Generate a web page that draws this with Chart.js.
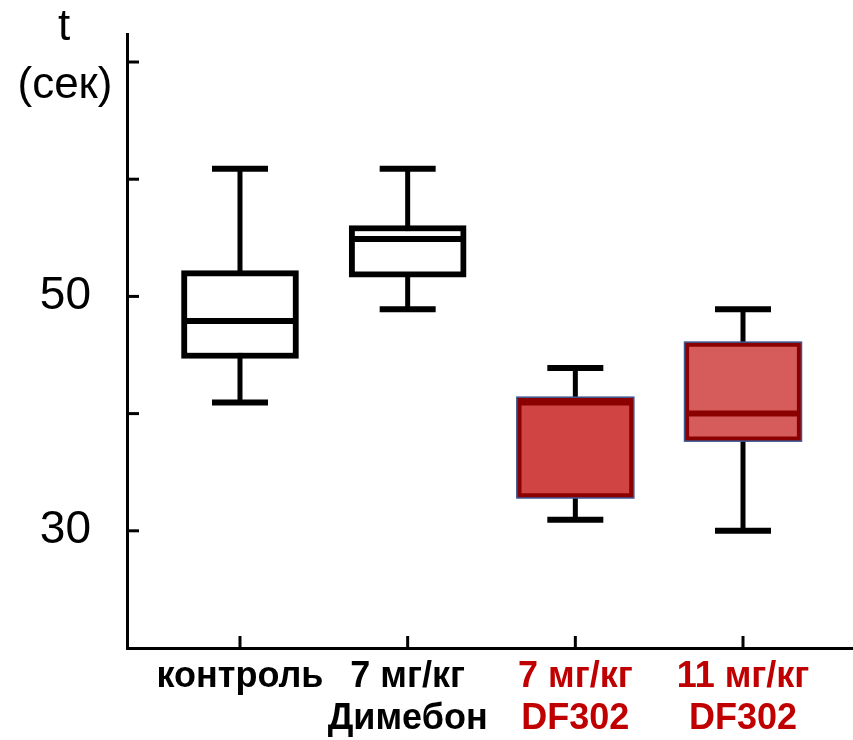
<!DOCTYPE html>
<html>
<head>
<meta charset="utf-8">
<script src="https://cdn.jsdelivr.net/npm/chart.js@4.4.1/dist/chart.umd.min.js"></script>
<style>
  html, body { margin: 0; padding: 0; background: #fff; }
  #wrap { width: 853px; height: 740px; }
</style>
</head>
<body>
<div id="wrap"><canvas id="boxes" width="853" height="740"></canvas></div>
<script>
// ---------- data ----------
const GROUPS = [["контроль"], ["7 мг/кг", "Димебон"], ["7 мг/кг", "DF302"], ["11 мг/кг", "DF302"]];
const POS = [1, 2, 3, 4];
const WHISK_LO = [40.95, 48.9, 30.95, 30.0];
const BOX_LO = [44.7, 51.65, 32.8, 37.65];
const MEDIAN = [47.9, 54.9, 40.95, 40.0];
const BOX_HI = [52.2, 56.05, 41.4, 46.1];
const WHISK_HI = [60.9, 60.9, 43.9, 48.9];
const Y_TICKS = [20, 30, 40, 50, 60, 70];
const Y_LABELED = [30, 50];

const BOX_FILL = ["#ffffff", "#ffffff", "#d04444", "#d65c5c"];
const BOX_EDGE = ["#000000", "#000000", "#8b0000", "#8b0000"];
const LABEL_COL = ["#000000", "#000000", "#c00000", "#c00000"];

// ---------- whiskers, caps, medians, inward ticks, title ----------
const boxExtras = {
  id: "boxExtras",
  beforeDatasetsDraw(chart) {
    const { ctx, scales: { x, y } } = chart;
    ctx.save();
    ctx.strokeStyle = "#000";
    POS.forEach((p, i) => {
      const cx = x.getPixelForValue(p);
      ctx.lineWidth = 5;
      ctx.beginPath();
      ctx.moveTo(cx, y.getPixelForValue(WHISK_LO[i]));
      ctx.lineTo(cx, y.getPixelForValue(WHISK_HI[i]));
      ctx.stroke();
      ctx.lineWidth = 6;
      [WHISK_LO[i], WHISK_HI[i]].forEach(v => {
        const py = y.getPixelForValue(v);
        ctx.beginPath();
        ctx.moveTo(cx - 28, py);
        ctx.lineTo(cx + 28, py);
        ctx.stroke();
      });
    });
    ctx.restore();
  },
  afterDatasetsDraw(chart) {
    const { ctx, scales: { x, y } } = chart;
    const meta = chart.getDatasetMeta(0);
    ctx.save();
    meta.data.forEach((bar, i) => {
      const half = bar.width / 2;
      // median
      ctx.strokeStyle = BOX_EDGE[i];
      ctx.lineWidth = 6;
      const my = y.getPixelForValue(MEDIAN[i]);
      ctx.beginPath();
      ctx.moveTo(bar.x - half + 3, my);
      ctx.lineTo(bar.x + half - 3, my);
      ctx.stroke();
      // thin blue outline on the red boxes
      if (i >= 2) {
        ctx.strokeStyle = "#3d5a96";
        ctx.lineWidth = 1.5;
        ctx.strokeRect(bar.x - half, Math.min(bar.y, bar.base), bar.width, Math.abs(bar.base - bar.y));
      }
    });
    // inward tick marks
    ctx.strokeStyle = "#000";
    ctx.lineWidth = 3;
    const left = chart.chartArea.left, bottom = chart.chartArea.bottom;
    Y_TICKS.slice(1).forEach(v => {
      const py = y.getPixelForValue(v);
      ctx.beginPath();
      ctx.moveTo(left, py);
      ctx.lineTo(left + 12, py);
      ctx.stroke();
    });
    POS.forEach(p => {
      const px = x.getPixelForValue(p);
      ctx.beginPath();
      ctx.moveTo(px, bottom);
      ctx.lineTo(px, bottom - 12);
      ctx.stroke();
    });
    // axis title
    ctx.fillStyle = "#000";
    ctx.font = "44px 'Liberation Sans', Arial, sans-serif";
    ctx.textAlign = "center";
    ctx.textBaseline = "alphabetic";
    ctx.fillText("t", 64, 40);
    ctx.fillText("(сек)", 65, 98);
    ctx.restore();
  }
};

const ctx = document.getElementById("boxes").getContext("2d");
new Chart(ctx, {
  type: "bar",
  data: {
    datasets: [{
      data: POS.map((p, i) => ({ x: p, y: [BOX_LO[i], BOX_HI[i]] })),
      backgroundColor: BOX_FILL,
      borderColor: BOX_EDGE,
      borderWidth: BOX_EDGE.map((c, i) => (i >= 2 ? 5 : 6)),
      borderSkipped: false,
      barThickness: 117
    }]
  },
  options: {
    responsive: false,
    animation: false,
    devicePixelRatio: 1,
    layout: { padding: { left: 0, right: 0, top: 34, bottom: 0 } },
    plugins: { legend: { display: false }, tooltip: { enabled: false }, title: { display: false } },
    scales: {
      x: {
        type: "linear",
        offset: false,
        min: 0.3261,
        max: 4.656,
        afterBuildTicks: s => { s.ticks = POS.map(v => ({ value: v })); },
        afterFit: s => { s.height = 92; s.paddingLeft = 0; s.paddingRight = 0; },
        grid: { display: false, drawTicks: false },
        border: { display: true, color: "#000", width: 3 },
        ticks: {
          padding: 8,
          color: c => LABEL_COL[c.index],
          font: { family: "'Liberation Sans', Arial, sans-serif", size: 36, weight: "bold", lineHeight: 1.17 },
          callback: (v, i) => GROUPS[i]
        }
      },
      y: {
        min: 20,
        max: 72.39,
        afterBuildTicks: s => { s.ticks = Y_TICKS.map(v => ({ value: v })); },
        afterFit: s => { s.width = 127; s.paddingTop = 0; s.paddingBottom = 0; },
        grid: { display: false, drawTicks: false },
        border: { display: true, color: "#000", width: 3 },
        ticks: {
          padding: 36,
          color: "#000",
          font: { family: "'Liberation Sans', Arial, sans-serif", size: 46 },
          callback: v => (Y_LABELED.includes(v) ? String(v) : "")
        }
      }
    }
  },
  plugins: [boxExtras]
});
</script>
</body>
</html>
